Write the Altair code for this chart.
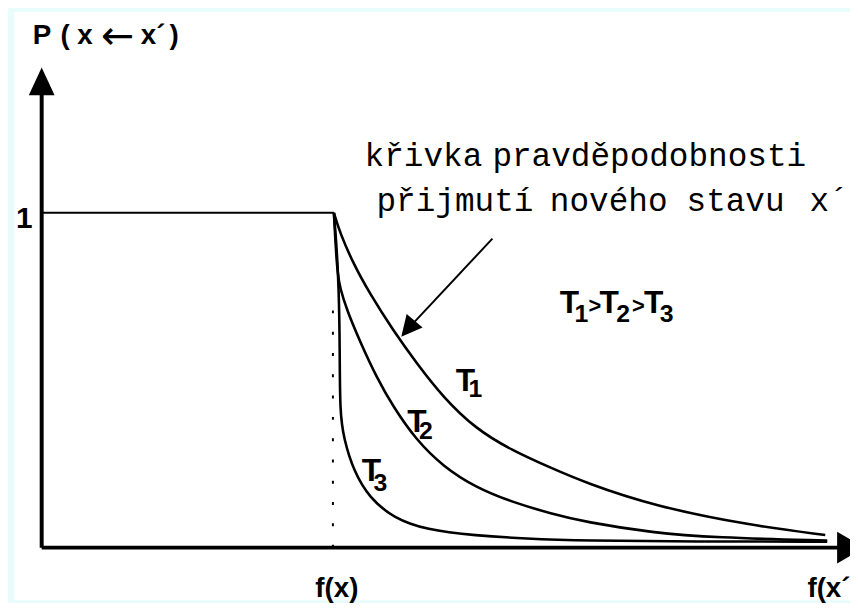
import altair as alt
import pandas as pd

# ---- data (x: f(x') - f(x) in arbitrary units, y: probability) ----
t1_x = [0, 0.12, 0.40, 0.72, 1.20, 1.66, 2.20, 2.86, 3.60, 4.40, 5.06, 6.46, 8.46, 9.92]
t1_y = [1.0, 0.941, 0.846, 0.760, 0.648, 0.553, 0.450, 0.355, 0.290, 0.237, 0.195, 0.124, 0.065, 0.038]
t2_x = [0, 0.04, 0.08, 0.12, 0.26, 0.52, 0.86, 1.20, 1.66, 2.20, 2.86, 3.60, 4.40, 5.06, 6.46, 7.66, 9.96]
t2_y = [1.0, 0.888, 0.814, 0.778, 0.710, 0.618, 0.509, 0.420, 0.322, 0.243, 0.180, 0.136, 0.101, 0.077, 0.044, 0.030, 0.021]
t3_x = [0, 0.06, 0.10, 0.12, 0.12, 0.20, 0.40, 0.72, 1.20, 1.86, 2.86, 3.86, 5.06, 7.26, 9.96]
t3_y = [1.0, 0.888, 0.769, 0.592, 0.405, 0.325, 0.228, 0.148, 0.089, 0.053, 0.036, 0.027, 0.021, 0.018, 0.018]

x_domain = [-6.46, 10.42]
y_domain = [-0.157, 1.6006]
axis_x0 = -5.9          # where the vertical axis stands
axis_x_end = 10.18      # end of the horizontal axis line
axis_y_top = 1.36       # end of the vertical axis line
fx_pos = 0.0            # f(x)

# annotations
t_letter_x = [2.46, 1.48, 0.56, 4.56, 5.36, 6.26]
t_letter_y = [0.467, 0.346, 0.198, 0.701, 0.701, 0.701]
sub_text = ["1", "2", "3", "1", "2", "3"]
sub_x = [2.72, 1.72, 0.80, 4.86, 5.70, 6.58]
sub_y = [0.450, 0.325, 0.169, 0.675, 0.675, 0.675]
gt_x = [5.14, 6.02]
gt_y = [0.701, 0.701]
caption_words = ["křivka", "pravděpodobnosti", "přijmutí", "nového", "stavu", "x´"]
caption_x = [0.62, 3.20, 0.86, 4.36, 7.12, 9.60]
caption_y = [1.139, 1.139, 1.006, 1.006, 1.006, 1.006]
ylabel_parts = ["P", "(", "x", "\u2190", "x\u00b4", ")"]
ylabel_x = [-6.08, -5.52, -5.18, -4.70, -3.90, -3.32]

BLACK = "#000000"
xs = alt.Scale(domain=x_domain, nice=False, zero=False)
ys = alt.Scale(domain=y_domain, nice=False, zero=False)

def X(f="x"):
    return alt.X(f"{f}:Q", scale=xs, axis=None)

def Y(f="y"):
    return alt.Y(f"{f}:Q", scale=ys, axis=None)

# curves
rows = []
for name, xs_, ys_ in [("T1", t1_x, t1_y), ("T2", t2_x, t2_y), ("T3", t3_x, t3_y)]:
    for i, (a, b) in enumerate(zip(xs_, ys_)):
        rows.append({"series": name, "i": i, "x": a, "y": b})
curves_df = pd.DataFrame(rows)

curves = alt.Chart(curves_df).mark_line(color=BLACK, strokeWidth=2.6, interpolate="basis").encode(
    x=X(), y=Y(), detail="series:N", order="i:Q"
)

axes_df = pd.DataFrame({"x": [axis_x0, axis_x0], "x2": [axis_x0, axis_x_end],
                        "y": [0, 0], "y2": [axis_y_top, 0]})
axes = alt.Chart(axes_df).mark_rule(color=BLACK, strokeWidth=4, strokeCap="butt").encode(
    x=X(), x2="x2:Q", y=Y(), y2="y2:Q")

one_df = pd.DataFrame({"x": [axis_x0], "x2": [fx_pos], "y": [1.0], "y2": [1.0]})
one_line = alt.Chart(one_df).mark_rule(color=BLACK, strokeWidth=2).encode(
    x=X(), x2="x2:Q", y=Y(), y2="y2:Q")

dot_df = pd.DataFrame({"x": [fx_pos - 0.02], "y": [0.0], "y2": [0.75]})
dotted = alt.Chart(dot_df).mark_rule(color=BLACK, strokeWidth=2, strokeDash=[3, 18.5]).encode(
    x=X(), y=Y(), y2="y2:Q")

ptr_df = pd.DataFrame({"x": [3.2], "x2": [1.5], "y": [0.923], "y2": [0.654]})
pointer = alt.Chart(ptr_df).mark_rule(color=BLACK, strokeWidth=2).encode(
    x=X(), x2="x2:Q", y=Y(), y2="y2:Q")

def head(x, y, path, size, angle):
    return alt.Chart(pd.DataFrame({"x": [x], "y": [y]})).mark_point(
        shape=path, size=size, angle=angle, filled=True, color=BLACK, opacity=1, strokeWidth=0
    ).encode(x=X(), y=Y())

head_y = head(axis_x0, 1.393, "M0,-1L0.93,1L-0.93,1Z", 784, 0)
head_x = head(10.44, 0.0, "M0,-1L1.14,1L-1.14,1Z", 784, 90)
head_p = head(1.495, 0.654, "M0,-1L1,1L-1,1Z", 441, 220)

SANS = "Liberation Sans, Arial, sans-serif"

def texts(xv, yv, tv, size, align="left", font=SANS, weight="bold"):
    df = pd.DataFrame({"x": xv, "y": yv, "t": tv})
    return alt.Chart(df).mark_text(align=align, baseline="alphabetic", font=font,
                                   fontSize=size, fontWeight=weight, color=BLACK).encode(
        x=X(), y=Y(), text="t:N")

t_letters = texts(t_letter_x, t_letter_y, ["T"] * len(t_letter_x), 32)
t_subs = texts(sub_x, sub_y, sub_text, 25)
t_gts = texts(gt_x, gt_y, [">"] * len(gt_x), 22)
ylab_main = texts([ylabel_x[i] for i in (0, 1, 2, 4, 5)], [1.503] * 5,
                  [ylabel_parts[i] for i in (0, 1, 2, 4, 5)], 28)
ylab_arrow = texts([ylabel_x[3]], [1.49], [ylabel_parts[3]], 40,
                   font="DejaVu Sans, sans-serif", weight="normal")
one_label = texts([-6.42], [0.956], ["1"], 30)
fx_label = texts([0.06], [-0.148], ["f(x)"], 28, align="center")
fx2_label = texts([9.56], [-0.148], ["f(x\u00b4)"], 28)
caption = texts(caption_x, caption_y, caption_words, 33,
                font="Liberation Mono, DejaVu Sans Mono, monospace", weight="normal")

chart = alt.layer(
    one_line, dotted, curves, axes, pointer, head_y, head_x, head_p,
    t_letters, t_subs, t_gts, ylab_main, ylab_arrow, one_label, fx_label, fx2_label, caption
).properties(
    width=844, height=594,
    padding={"left": 6, "top": 1, "right": 0, "bottom": 0},
    autosize=alt.AutoSizeParams(type="none"),
    background="#e8fcfc",
).configure_view(fill="white", strokeWidth=0)

chart.save("out.html", embed_options={"renderer": "svg", "actions": False})
